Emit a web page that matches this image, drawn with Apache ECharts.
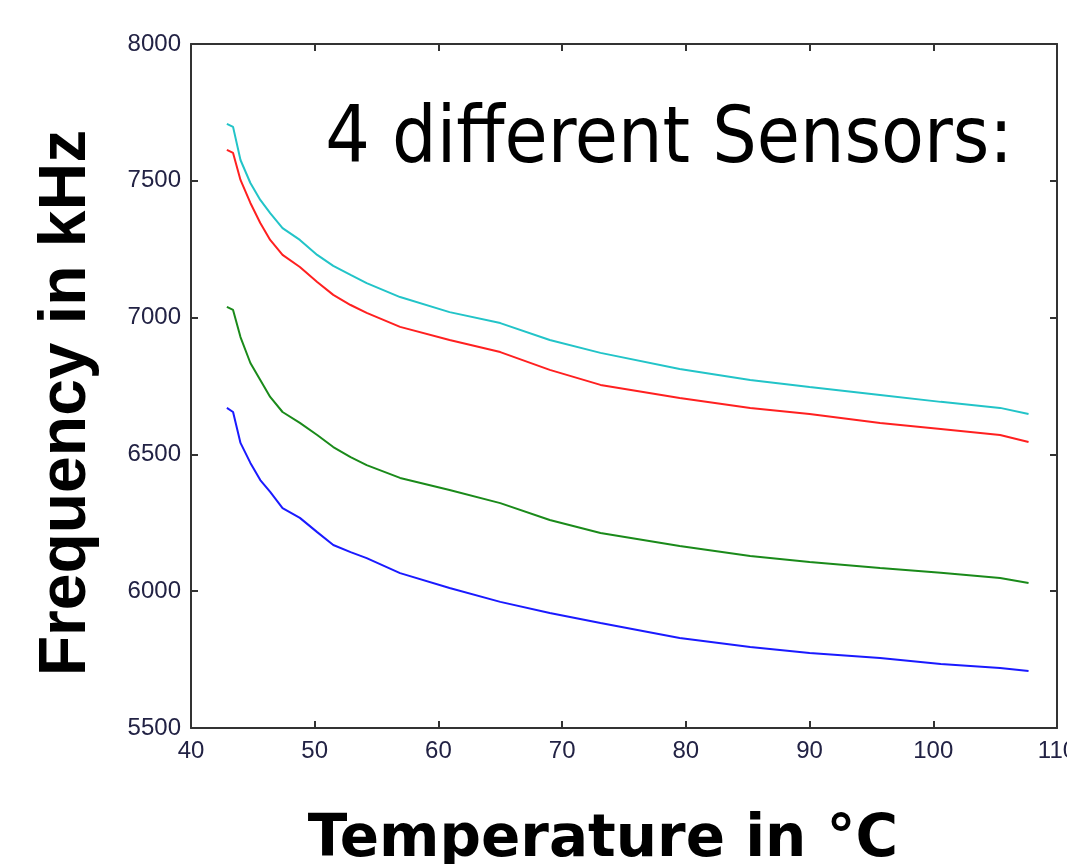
<!DOCTYPE html>
<html>
<head>
<meta charset="utf-8">
<script src="https://cdn.jsdelivr.net/npm/echarts@6/dist/echarts.min.js"></script>
<style>
html,body{margin:0;padding:0;background:#fff;}
#chart{width:1067px;height:864px;}
</style>
</head>
<body>
<div id="chart"></div>
<script>
// Temperature samples (°C)
const temperature = [42.9, 43.4, 44.0, 44.8, 45.6, 46.4, 47.4, 48.8, 50.2, 51.5, 52.9, 54.2, 56.9, 60.9, 65.0, 69.0, 73.1, 79.5, 85.2, 90.0, 95.7, 100.6, 105.4, 107.7];
// Frequencies (kHz) of the four sensors
const sensorCyan  = [7708, 7697, 7576, 7492, 7430, 7382, 7327, 7284, 7229, 7189, 7156, 7126, 7075, 7020, 6980, 6918, 6871, 6812, 6772, 6746, 6717, 6692, 6670, 6648];
const sensorRed   = [7613, 7602, 7503, 7419, 7346, 7284, 7229, 7185, 7130, 7083, 7046, 7017, 6966, 6918, 6874, 6809, 6754, 6706, 6670, 6648, 6615, 6593, 6571, 6545];
const sensorGreen = [7039, 7028, 6929, 6834, 6772, 6710, 6655, 6615, 6571, 6527, 6490, 6461, 6414, 6370, 6322, 6260, 6213, 6165, 6129, 6107, 6085, 6067, 6048, 6030];
const sensorBlue  = [6670, 6655, 6542, 6469, 6406, 6363, 6304, 6268, 6216, 6169, 6143, 6121, 6066, 6012, 5961, 5920, 5884, 5829, 5796, 5774, 5756, 5734, 5719, 5708];

const titleText = '4 different Sensors:';
const xTitle = 'Temperature in °C';
const yTitle = 'Frequency in kHz';

function pairs(vals){ return temperature.map((t,i)=>[t, vals[i]]); }

const chart = echarts.init(document.getElementById('chart'), null, {renderer:'canvas'});
const axisLineStyle = {color:'#333', width:2};
const labelStyle = {color:'#222244', fontFamily:'Liberation Sans', fontSize:24, formatter:(v)=>String(v)};

function series(name, vals, color){
  return {name, type:'line', data:pairs(vals), showSymbol:false, symbol:'none',
    lineStyle:{color, width:2}, itemStyle:{color}, animation:false};
}

chart.setOption({
  animation:false,
  backgroundColor:'#fff',
  grid:{left:191, top:44, right:10, bottom:136, containLabel:false, outerBoundsMode:'none'},
  xAxis:[
    {type:'value', min:40, max:110, interval:10, position:'bottom',
     axisLine:{show:true, lineStyle:axisLineStyle},
     axisTick:{show:true, inside:true, length:7, lineStyle:{color:'#333', width:2}},
     axisLabel:{...labelStyle, margin:11, showMaxLabel:true},
     splitLine:{show:false}},
    {type:'value', min:40, max:110, interval:10, position:'top',
     axisLine:{show:true, lineStyle:axisLineStyle},
     axisTick:{show:true, inside:true, length:7, lineStyle:{color:'#333', width:2}},
     axisLabel:{show:false}, splitLine:{show:false}}
  ],
  yAxis:[
    {type:'value', min:5500, max:8000, interval:500, position:'left',
     axisLine:{show:true, lineStyle:axisLineStyle},
     axisTick:{show:true, inside:true, length:7, lineStyle:{color:'#333', width:2}},
     axisLabel:{...labelStyle, margin:10},
     splitLine:{show:false}},
    {type:'value', min:5500, max:8000, interval:500, position:'right',
     axisLine:{show:true, lineStyle:axisLineStyle},
     axisTick:{show:true, inside:true, length:7, lineStyle:{color:'#333', width:2}},
     axisLabel:{show:false}, splitLine:{show:false}}
  ],
  series:[
    series('Sensor 1', sensorCyan, '#22c4c8'),
    series('Sensor 2', sensorRed, '#ff2020'),
    series('Sensor 3', sensorGreen, '#1a8a1a'),
    series('Sensor 4', sensorBlue, '#1a1aff')
  ],
  graphic:[
    {type:'text', x:1013, y:103,
     style:{text:titleText, fill:'#000', font:'78px "DejaVu Sans Condensed", "DejaVu Sans"', textAlign:'right', textVerticalAlign:'top'}},
    {type:'text', x:603, y:812,
     style:{text:xTitle, fill:'#000', font:'bold 58px "DejaVu Sans"', textAlign:'center', textVerticalAlign:'top'}},
    {type:'text', x:67, y:403, rotation:Math.PI/2,
     style:{text:yTitle, fill:'#000', font:'bold 66px "Liberation Sans"', textAlign:'center', textVerticalAlign:'middle'}}
  ]
});
</script>
</body>
</html>
